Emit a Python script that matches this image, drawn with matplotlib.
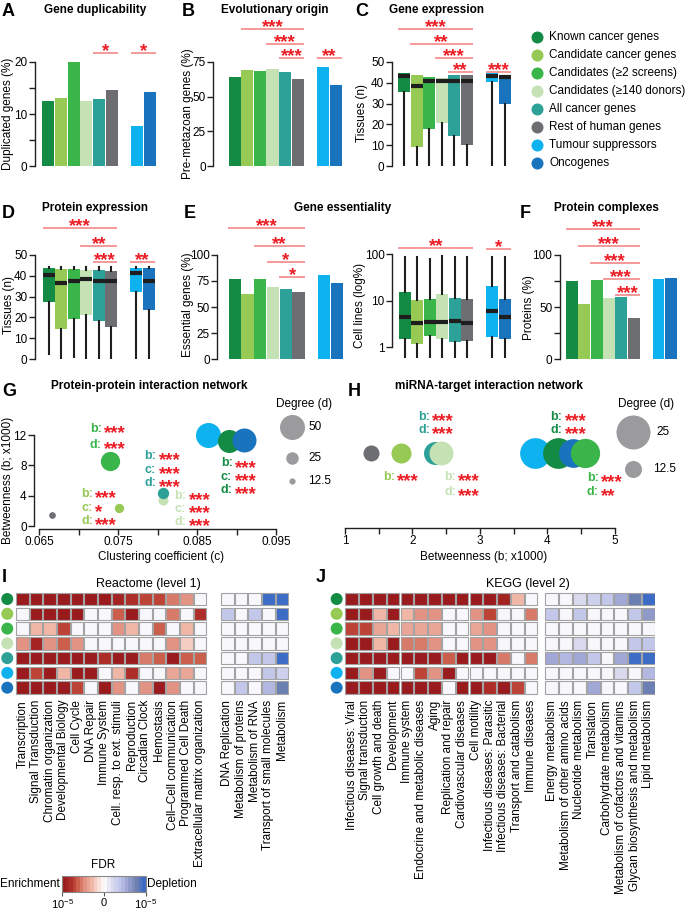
import matplotlib
matplotlib.use("Agg")
from matplotlib import pyplot as plt
from matplotlib.cm import ScalarMappable
from matplotlib.collections import PatchCollection
from matplotlib.colors import LinearSegmentedColormap, Normalize
from matplotlib.patches import Rectangle
from matplotlib.ticker import NullLocator
import numpy as np

plt.rcParams['font.family'] = ['Liberation Sans', 'DejaVu Sans']
plt.rcParams['font.size'] = 8.5
plt.rcParams['mathtext.fontset'] = 'custom'
plt.rcParams['mathtext.rm'] = 'Liberation Sans'
plt.rcParams['axes.linewidth'] = 1.0
plt.rcParams['axes.edgecolor'] = '#231f20'

W, H = 685, 913

# ---- data -------------------------------------------------------------
groups = ["Known cancer genes", "Candidate cancer genes", "Candidates (≥2 screens)",
          "Candidates (≥140 donors)", "All cancer genes", "Rest of human genes",
          "Tumour suppressors", "Oncogenes"]
colours = ['#148b45', '#97c955', '#39b54a', '#c5e2b5', '#2da097', '#6d6e72', '#0db2ee', '#1973bd']
positions = [0, 1, 2, 3, 4, 5, 7, 8]

dup_pct = [12.5, 13.0, 20.0, 12.5, 12.8, 14.6, 7.6, 14.2]
premetazoan_pct = [64.2, 69.2, 68.5, 70.0, 67.6, 62.5, 71.2, 58.4]
essential_pct = [76.6, 62.5, 77.2, 68.9, 67.0, 64.4, 81.0, 73.0]
complex_pct = [75.3, 52.9, 76.0, 58.3, 59.6, 39.1, 76.9, 77.6]

# gene expression (tissues)
gexp_q1 = [35.7, 9.2, 18.0, 20.9, 14.3, 10.1, 40.5, 29.6]
gexp_med = [43.5, 38.6, 41.0, 41.0, 40.7, 40.7, 43.4, 42.6]
gexp_q3 = [44.5, 43.6, 42.6, 42.5, 43.6, 43.6, 44.5, 43.7]
gexp_lo = [0, 0, 0, 0, 0, 0, 0, 0]
gexp_hi = [44.5, 43.6, 42.6, 42.5, 43.6, 43.6, 44.5, 43.7]

# protein expression (tissues)
pexp_q1 = [27.2, 14.4, 19.1, 21.2, 18.4, 15.5, 32.4, 23.6]
pexp_med = [40.4, 36.4, 37.5, 38.3, 37.5, 37.5, 41.2, 37.5]
pexp_q3 = [43.9, 43.1, 43.1, 43.0, 43.0, 42.3, 43.9, 43.9]
pexp_lo = [2.4, 0, 1.0, 0, 0, 0, 0, 0]
pexp_hi = [44, 44, 44, 44, 44, 44, 44, 44]

# essential in cell lines (log %)
cl_q1 = [1.47, 1.16, 1.73, 1.47, 1.26, 1.37, 1.67, 1.47]
cl_med = [4.4, 3.25, 3.4, 3.5, 3.6, 3.3, 6.0, 4.5]
cl_q3 = [15.6, 10.4, 10.7, 13.7, 11.6, 11.1, 20.8, 11.1]
cl_lo = [0.62, 0.62, 0.62, 0.62, 0.62, 0.62, 0.62, 0.62]
cl_hi = [86, 89, 78, 94, 89, 89, 86, 86]

# PPI network
ppi_clust = [0.0890, 0.0751, 0.0740, 0.0807, 0.0806, 0.0666, 0.0864, 0.0909]
ppi_betw = [11.2, 2.45, 8.6, 3.45, 4.35, 1.49, 12.0, 11.3]
ppi_degree = [46, 18.6, 38.6, 20, 22.6, 13.4, 50, 48]

# miRNA network
mirna_betw = [4.16, 1.83, 4.55, 2.42, 2.33, 1.385, 3.81, 4.38]
mirna_degree = [22.6, 14.7, 21.5, 17.6, 16.9, 11.8, 22.6, 21.1]

# significance: (from, to, height, stars)
sig_dup = [(3.5, 5.5, 21.7, '*'), (6.5, 8.5, 21.7, '*')]
sig_evo = [(0.5, 5.5, 98.6, '***'), (2.5, 5.5, 88.2, '***'), (3.5, 5.5, 77.6, '***'),
           (6.5, 8.5, 77.6, '**')]
sig_gexp = [(-0.5, 5.5, 65.8, '***'), (0.5, 5.5, 58.8, '**'), (2.5, 5.5, 51.8, '***'),
            (3.5, 5.5, 45.3, '**'), (6.5, 8.5, 45.3, '***')]
sig_pexp = [(-0.5, 5.5, 62.8, '***'), (2.5, 5.5, 54.5, '**'), (3.5, 5.5, 46.6, '***'),
            (6.5, 8.5, 46.6, '**')]
sig_ess = [(-0.5, 5.5, 125.7, '***'), (1.5, 5.5, 109.0, '**'), (2.5, 5.5, 93.3, '*'),
           (3.5, 5.5, 79.1, '*')]
sig_cl = [(-0.5, 5.5, 139, '**'), (6.5, 8.5, 128, '*')]
sig_cplx = [(-0.5, 5.5, 124.7, '***'), (0.5, 5.5, 109.0, '***'), (1.5, 5.5, 92.6, '***'),
            (2.5, 5.5, 77.2, '***'), (3.5, 5.5, 61.8, '***')]

ppi_notes = [
    (2, 0.0714, 12.9, 'b', '***'), (2, 0.0714, 10.9, 'd', '***'),
    (1, 0.0703, 4.42, 'b', '***'), (1, 0.0703, 2.58, 'c', '*'), (1, 0.0703, 0.83, 'd', '***'),
    (4, 0.0783, 9.46, 'b', '***'), (4, 0.0783, 7.62, 'c', '***'), (4, 0.0783, 5.86, 'd', '***'),
    (3, 0.0821, 4.2, 'b', '***'), (3, 0.0821, 2.44, 'c', '***'), (3, 0.0821, 0.74, 'd', '***'),
    (0, 0.0880, 8.41, 'b', '***'), (0, 0.0880, 6.65, 'c', '***'), (0, 0.0880, 4.9, 'd', '***'),
]
mirna_notes = [
    (4, 2.086, 0.567, 'b', '***'), (4, 2.086, 0.366, 'd', '***'),
    (1, 1.559, -0.342, 'b', '***'),
    (3, 2.467, -0.342, 'b', '***'), (3, 2.467, -0.558, 'd', '***'),
    (0, 4.047, 0.567, 'b', '***'), (0, 4.047, 0.366, 'd', '***'),
    (2, 4.581, -0.353, 'b', '***'), (2, 4.581, -0.568, 'd', '**'),
]

reactome_terms = ["Transcription", "Signal Transduction", "Chromatin organization",
                  "Developmental Biology", "Cell Cycle", "DNA Repair", "Immune System",
                  "Cell. resp. to ext. stimuli", "Reproduction", "Circadian Clock",
                  "Hemostasis", "Cell–Cell communication", "Programmed Cell Death",
                  "Extracellular matrix organization",
                  "DNA Replication", "Metabolism of proteins", "Metabolism of RNA",
                  "Transport of small molecules", "Metabolism"]
# signed -log10 FDR: negative = enrichment, positive = depletion
reactome = [
    [-5, -5, -5, -5, -5, -5, -5, -4.5, -3.8, -3.4, -3.4, -2.8, -2.3, 0, 0, 0, 0, 5, 5],
    [0, -5, -5, -5, -5, 0, 0, -3.3, -5, 0, 0, -2.8, 0, -3.8, 2, 0, 2, 0, 5],
    [0, -1.5, -1.6, -3.6, 0, 0, 0, -2.2, -1.5, 0, -3.3, 0, -1.5, 0, 0, 0, 0, 0, 0],
    [-2.2, -4.5, -2.5, -3.0, -2.5, 0, 0, 0, 0, 0, 0, -2.5, -1.2, 0, 0, 0, 0, 0, 0],
    [-5, -5, -5, -5, -5, -5, -3.8, -5, -5, -2.8, -3.2, -5, -3.0, -3.0, 0, 0, 2, 2, 5],
    [-5, -3.6, -5, -1.5, -5, -5, 0, -1.3, -4.0, 0, 0, -1.7, -2.0, 0, 0, 0, 0, 2, 1.5],
    [-5, -5, -5, -5, -3.6, 0, -5, -2.3, 0, -2.2, -5, -2.5, 0, 0, 0, 1.8, 0, 2.2, 3.8],
]
kegg_terms = ["Infectious diseases: Viral", "Signal transduction", "Cell growth and death",
              "Development", "Immune system", "Endocrine and metabolic diseases", "Aging",
              "Replication and repair", "Cardiovascular diseases", "Cell motility",
              "Infectious diseases: Parasitic", "Infectious diseases: Bacterial",
              "Transport and catabolism", "Immune diseases",
              "Energy metabolism", "Metabolism of other amino acids", "Nucleotide metabolism",
              "Translation", "Carbohydrate metabolism", "Metabolism of cofactors and vitamins",
              "Glycan biosynthesis and metabolism", "Lipid metabolism"]
kegg = [
    [-5, -5, -5, -5, -5, -5, -5, -5, -5, -5, -5, -4.5, -1.5, 0, 0, 0, 1, 1.5, 2, 2.8, 3.8, 5],
    [-5, -5, -1.6, -5, -1.5, -2.2, -2.2, 0, 0, -2.2, -3.4, 0, 0, -2.6, 2, 0, 2, 0, 0, 0, 1.8, 3.2],
    [-3.5, -3.5, -1.7, -1.4, -1.9, -1.7, -1.9, 0, 0, -1.7, -2.2, 0, 0, 0, 0, 0, 0, 0, 0, 0, 0, 0],
    [-5, -5, -1.4, -5, -2.6, -2.7, -2.2, 0, 0, -2.2, -2.3, 0, 0, 0, 0, 0, 1, 0, 0, 0, 1.8, 1.8],
    [-5, -5, -5, -5, -5, -5, -5, -3.3, -5, -5, -5, -2.6, 0, -2.9, 2.8, 2.3, 2.9, 2, 0, 2.9, 5, 5],
    [-5, -2.2, -5, 0, 0, -3.5, -2.3, -5, 0, 0, 0, 0, 0, 0, 0, 0, 0, 0, 0, 1, 0, 2.3],
    [-5, -5, -5, -5, -5, -5, -5, 0, -5, -5, -3.8, -5, -3.6, 0, 0, 0, 0, 2.6, 0, 0, 2, 4],
]
heat_rows = [0, 1, 2, 3, 4, 6, 7]

STAR = '#ec1c24'
SIGLINE = '#f37d7d'
INK = '#231f20'

fdr_cmap = LinearSegmentedColormap.from_list(
    'fdr', [(0.0, '#9a1b1e'), (0.1, '#b0302a'), (0.15, '#c4503c'), (0.25, '#e08e7e'),
            (0.35, '#f0b8a8'), (0.42, '#f8dcd4'), (0.5, '#ffffff'), (0.6, '#dcdcf0'),
            (0.7, '#c2c6ea'), (0.8, '#9aa2d2'), (0.9, '#7282b0'), (1.0, '#3c6cc6')], N=24)
fdr_norm = Normalize(-5, 5)

fig = plt.figure(figsize=(W / 100, H / 100), dpi=100)


def px_axes(x0, y0, x1, y1):
    return fig.add_axes([x0 / W, 1 - y1 / H, (x1 - x0) / W, (y1 - y0) / H])


def ftext(x, y, s, **kw):
    return fig.text(x / W, 1 - y / H, s, **kw)


def panel_axes(x_spine, xl, pxu, row, top, ticks, minor=(), log=False):
    y0, y1 = row
    ax = px_axes(x_spine, y0, x_spine + (8.6 - xl) * pxu, y1)
    ax.set_xlim(xl, 8.6)
    for s in ('top', 'right', 'bottom'):
        ax.spines[s].set_visible(False)
    if log:
        ax.set_yscale('log')
        ax.set_ylim(0.551, 778)
        ax.spines['left'].set_bounds(1, top)
        ax.yaxis.set_minor_locator(NullLocator())
        ax.set_yticks(ticks, [str(t) for t in ticks])
    else:
        ax.set_ylim(0, top * 146 / 104)
        ax.spines['left'].set_bounds(0, top)
        ax.set_yticks(ticks)
        ax.set_yticks(minor, minor=True)
    ax.set_xticks([])
    ax.tick_params(axis='y', which='both', length=4, width=1, pad=1.5, labelsize=8.5,
                   color=INK)
    return ax


def add_sig(ax, sig):
    for x0, x1, y, stars in sig:
        ax.plot([x0, x1], [y, y], color=SIGLINE, lw=1.1, clip_on=False,
                solid_capstyle='butt')
        ax.annotate(stars, ((x0 + x1) / 2, y), xytext=(0, -2.2), textcoords='offset points',
                    ha='center', va='baseline', color=STAR, fontsize=13.5,
                    fontweight='bold', annotation_clip=False)


def bar_panel(x_spine, xl, pxu, row, values, top, ticks, minor, sig):
    ax = panel_axes(x_spine, xl, pxu, row, top, ticks, minor)
    ax.bar(positions, values, width=0.96, color=colours)
    add_sig(ax, sig)
    return ax


def box_panel(x_spine, xl, pxu, row, q1, med, q3, lo, hi, top, ticks, sig, log=False):
    ax = panel_axes(x_spine, xl, pxu, row, top, ticks, log=log)
    stats = [dict(q1=a, med=m, q3=b, whislo=l, whishi=h)
             for a, m, b, l, h in zip(q1, med, q3, lo, hi)]
    bp = ax.bxp(stats, positions=positions, widths=0.95, patch_artist=True,
                showfliers=False, showcaps=False, manage_ticks=False,
                boxprops=dict(linewidth=0),
                medianprops=dict(color='#1e1e1e', linewidth=3, solid_capstyle='butt'),
                whiskerprops=dict(color='#1e1e1e', linewidth=1.5))
    for patch, c in zip(bp['boxes'], colours):
        patch.set_facecolor(c)
    ax.set_xticks([])
    add_sig(ax, sig)
    return ax


TOP_ROW = (20, 166)
MID_ROW = (213, 359)

bar_panel(35, -1.05, 12.67, TOP_ROW, dup_pct, 20, [0, 10, 20], [5, 15], sig_dup)
bar_panel(213.3, -1.69, 12.63, TOP_ROW, premetazoan_pct, 75, [0, 25, 50, 75], [], sig_evo)
box_panel(392, -0.95, 12.59, TOP_ROW, gexp_q1, gexp_med, gexp_q3, gexp_lo, gexp_hi,
          50, [0, 10, 20, 30, 40, 50], sig_gexp)
box_panel(35, -1.12, 12.46, MID_ROW, pexp_q1, pexp_med, pexp_q3, pexp_lo, pexp_hi,
          50, [0, 10, 20, 30, 40, 50], sig_pexp)
bar_panel(217.3, -1.36, 12.78, MID_ROW, essential_pct, 100, [0, 25, 50, 75, 100], [], sig_ess)
box_panel(392.3, -0.99, 12.5, MID_ROW, cl_q1, cl_med, cl_q3, cl_lo, cl_hi,
          100, [1, 10, 100], sig_cl, log=True)
bar_panel(560, -0.96, 12.37, MID_ROW, complex_pct, 100, [0, 50, 100], [25, 75], sig_cplx)

# y labels of the bar / box panels
for x, y, s in [(8, 114, "Duplicated genes (%)"), (188.5, 114, "Pre-metazoan genes (%)"),
                (362, 113, "Tissues (n)"), (9, 305, "Tissues (n)"),
                (188.5, 305, "Essential genes (%)"), (360, 305, "Cell lines (log%)"),
                (529, 308, "Proteins (%)")]:
    ftext(x, y, s, rotation=90, ha='center', va='center', fontsize=8.5)

# group legend
leg = px_axes(525, 28, 685, 172)
leg.set_xlim(525, 685)
leg.set_ylim(172, 28)
leg.axis('off')
for i, (name, c) in enumerate(zip(groups, colours)):
    leg.scatter(536.7, 37.3 + 18 * i, s=(12 * 0.72) ** 2, color=c, linewidths=0)
    leg.text(549.3, 37.3 + 18 * i, name, va='center', ha='left', fontsize=8.5)


def add_notes(ax, notes):
    for g, x, y, letter, stars in notes:
        ax.annotate(letter + ':', (x, y), xytext=(0, -3.0), textcoords='offset points',
                    ha='left', va='baseline', color=colours[g], fontsize=9,
                    fontweight='bold', annotation_clip=False)
        ax.annotate(stars, (x, y), xytext=(10.2, -7.4), textcoords='offset points',
                    ha='left', va='baseline', color=STAR, fontsize=13.5,
                    fontweight='bold', annotation_clip=False)


# G: PPI network
axG = px_axes(34.3, 395, 323.7, 528.6)
axG.set_xlim(0.06437, 0.101)
axG.set_ylim(-0.3, 17.26)
for s in ('top', 'right'):
    axG.spines[s].set_visible(False)
axG.spines['left'].set_bounds(0, 12)
axG.spines['bottom'].set_bounds(0.065, 0.095)
axG.set_xticks([0.065, 0.075, 0.085, 0.095], ['0.065', '0.075', '0.085', '0.095'])
axG.set_xticks([0.07, 0.08, 0.09], minor=True)
axG.set_yticks([0, 4, 8, 12])
axG.tick_params(which='both', length=4, width=1, pad=1.5, labelsize=8.5, color=INK)
for g in [5, 1, 2, 3, 4, 6, 0, 7]:
    axG.scatter(ppi_clust[g], ppi_betw[g], s=(0.5 * ppi_degree[g] * 0.72) ** 2,
                color=colours[g], linewidths=0, clip_on=False)
for d, y in zip([50, 25, 12.5], [13.0, 9.0, 5.95]):
    axG.scatter(0.0970, y, s=(0.5 * d * 0.72) ** 2, color='#9b9b9d', linewidths=0,
                clip_on=False)
    axG.text(0.09905, y, str(d), va='center', ha='left', fontsize=8.5)
axG.text(0.09496, 16.03, "Degree (d)", va='center', ha='left', fontsize=8.5)
add_notes(axG, ppi_notes)
ftext(161, 556.7, "Clustering coefficient (c)", ha='center', va='center', fontsize=8.5)
ftext(8.3, 480.6, "Betweenness (b; x1000)", rotation=90, ha='center', va='center',
      fontsize=8.5)

# H: miRNA network
axH = px_axes(345, 395, 680, 527.7)
axH.set_xlim(1, 5.963)
axH.set_ylim(-1.121, 0.879)
for s in ('top', 'right', 'left'):
    axH.spines[s].set_visible(False)
axH.spines['bottom'].set_bounds(1, 5)
axH.set_yticks([])
axH.set_xticks([1, 2, 3, 4, 5])
axH.set_xticks([1.5, 2.5, 3.5, 4.5], minor=True)
axH.tick_params(which='both', length=4, width=1, pad=1.5, labelsize=8.5, color=INK)
for g in [5, 1, 4, 3, 6, 0, 7, 2]:
    axH.scatter(mirna_betw[g], 0, s=(1.36 * mirna_degree[g] * 0.72) ** 2,
                color=colours[g], linewidths=0, clip_on=False)
for d, y, tx in zip([25, 12.5], [0.326, -0.237], [5.618, 5.567]):
    axH.scatter(5.27, y, s=(1.36 * d * 0.72) ** 2, color='#9b9b9d', linewidths=0,
                clip_on=False)
    axH.text(tx, y, str(d), va='center', ha='left', fontsize=8.5)
axH.text(5.05, 0.738, "Degree (d)", va='center', ha='left', fontsize=8.5)
add_notes(axH, mirna_notes)
ftext(483.3, 556.7, "Betweenness (b; x1000)", ha='center', va='center', fontsize=8.5)


def heatmap(box, xlim, values, terms, right_start, circle_x):
    ax = px_axes(*box)
    vals = np.array(values)
    n_right = vals.shape[1] - 14
    cols = list(range(14)) + [right_start + k for k in range(n_right)]
    patches = [Rectangle((cx - 0.46, r - 0.42), 0.92, 0.84)
               for r in range(vals.shape[0]) for cx in cols]
    pc = PatchCollection(patches, cmap=fdr_cmap, norm=fdr_norm, edgecolor='#a3a3a3',
                         linewidth=0.8)
    pc.set_array(vals.ravel())
    ax.add_collection(pc)
    ax.scatter([circle_x] * len(heat_rows), range(len(heat_rows)), s=(12 * 0.72) ** 2,
               c=[colours[g] for g in heat_rows], linewidths=0)
    ax.set_xlim(*xlim)
    ax.set_ylim(6.55, -0.55)
    for s in ax.spines.values():
        s.set_visible(False)
    ax.set_yticks([])
    ax.set_xticks(cols, terms, rotation=90, fontsize=8.5)
    ax.tick_params(axis='x', length=0, pad=3)
    return ax


heatmap((0.43, 590.9, 288.9, 695.8), (-1.6, 19.5), reactome, reactome_terms, 15, -1.1)
heatmap((329.6, 590.9, 655.3, 695.8), (-1.6, 22.0), kegg, kegg_terms, 14.5, -1.09)
ftext(148.3, 584.3, "Reactome (level 1)", ha='center', va='center', fontsize=9)
ftext(528.3, 584.3, "KEGG (level 2)", ha='center', va='center', fontsize=9)

# colour bar
cax = px_axes(62.3, 875.5, 145.7, 892)
cb = fig.colorbar(ScalarMappable(norm=fdr_norm, cmap=fdr_cmap), cax=cax,
                  orientation='horizontal')
cb.set_ticks([-5, 0, 5])
cb.set_ticklabels(['10$^{-5}$', '0', '10$^{-5}$'])
cb.ax.tick_params(length=3, pad=1, labelsize=8, color='#555555')
cb.outline.set_edgecolor('#888888')
cb.outline.set_linewidth(0.8)
ftext(103.3, 865, "FDR", ha='center', va='center', fontsize=8.5)
ftext(60, 884, "Enrichment", ha='right', va='center', fontsize=8.5)
ftext(147.3, 884, "Depletion", ha='left', va='center', fontsize=8.5)

# titles and panel letters
for x, y, s in [(95, 10, "Gene duplicability"), (274.7, 10, "Evolutionary origin"),
                (436.5, 10, "Gene expression"), (95, 208, "Protein expression"),
                (343, 208, "Gene essentiality"), (606.7, 208, "Protein complexes"),
                (149, 385.7, "Protein-protein interaction network"),
                (488.7, 385.7, "miRNA-target interaction network")]:
    ftext(x, y, s, ha='center', va='center', fontsize=8.5, fontweight='bold')
for x, y, s in [(2, 11, 'A'), (182, 11, 'B'), (355, 11, 'C'), (2, 213, 'D'),
                (184, 213, 'E'), (520, 213, 'F'), (2, 391, 'G'), (348, 391, 'H'),
                (2, 578, 'I'), (316, 578, 'J')]:
    ftext(x, y, s, ha='left', va='center', fontsize=13, fontweight='bold')

fig.savefig("out.png", dpi=100)
